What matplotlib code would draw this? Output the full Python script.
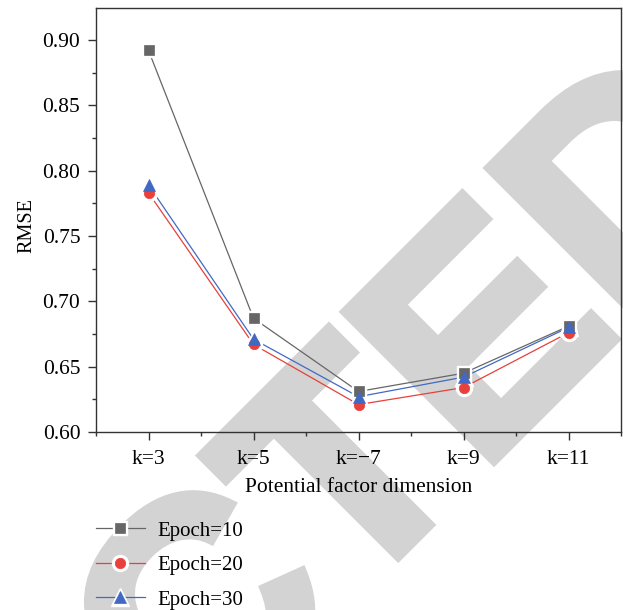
import numpy as np
import matplotlib
matplotlib.use('Agg')
from matplotlib import pyplot as plt
from matplotlib import patheffects
from matplotlib.ticker import MultipleLocator
from matplotlib.legend_handler import HandlerTuple

# data
k_labels = ['k=3', 'k=5', 'k=\u22127', 'k=9', 'k=11']
epoch10 = [0.892, 0.687, 0.631, 0.645, 0.681]
epoch20 = [0.783, 0.667, 0.621, 0.634, 0.676]
epoch30 = [0.789, 0.671, 0.627, 0.642, 0.680]
series_names = ['Epoch=10', 'Epoch=20', 'Epoch=30']

plt.rcParams['font.family'] = ['Liberation Serif', 'DejaVu Serif']

fig = plt.figure(figsize=(6.23, 6.10), dpi=100)
ax = fig.add_axes([0.1541, 0.2918, 0.8427, 0.6951])
ax.patch.set_visible(False)

# "RETRACTED" watermark behind the plot
wm_color = '#d3d3d3'
wm = dict(fontsize=219.6, fontweight='bold', family=['Liberation Sans', 'DejaVu Sans'],
          color=wm_color, rotation=45, rotation_mode='anchor', va='baseline', zorder=-1,
          path_effects=[patheffects.withStroke(linewidth=7.2, foreground=wm_color,
                                               joinstyle='miter')])
fig.text(0.5584, 0.006, 'RETRAC', ha='right', **wm)
fig.text(0.5584, 0.006, 'TED', ha='left', **wm)

x = np.arange(1, len(k_labels) + 1)
styles = [('#666666', 's', 6.5), ('#e8403a', 'o', 7.5), ('#4169c4', '^', 8.5)]
handles = []
for vals, (c, m, ms) in zip([epoch10, epoch20, epoch30], styles):
    ln, = ax.plot(x, vals, color=c, lw=0.9, zorder=2)
    halo, = ax.plot(x, vals, ls='none', marker=m, ms=ms + 4, mfc='white', mec='white', zorder=3)
    mk, = ax.plot(x, vals, ls='none', marker=m, ms=ms, mfc=c, mec=c, mew=0.5, zorder=4)
    handles.append((ln, halo, mk))

ax.set_xlim(0.5, 5.5)
ax.set_ylim(0.6, 0.9245)
ax.set_xticks(x)
ax.set_xticklabels(k_labels)
ax.xaxis.set_minor_locator(MultipleLocator(0.5))
ax.yaxis.set_major_locator(MultipleLocator(0.05))
ax.yaxis.set_minor_locator(MultipleLocator(0.025))
ax.yaxis.set_major_formatter(matplotlib.ticker.FormatStrFormatter('%.2f'))

ax.tick_params(axis='both', which='major', direction='out', length=5.8, width=1,
               labelsize=15.5, color='#333333')
ax.tick_params(axis='both', which='minor', direction='out', length=2.9, width=1, color='#333333')
ax.tick_params(axis='x', pad=7)
ax.tick_params(axis='y', pad=5.5)
for s in ax.spines.values():
    s.set_linewidth(1.0)
    s.set_color('#333333')

ax.set_xlabel('Potential factor dimension', fontsize=15.5, va='top')
ax.xaxis.set_label_coords(0.5, -0.108)
ax.set_ylabel('RMSE', fontsize=14.5)
ax.yaxis.set_label_coords(-0.114, 0.488)

fig.legend(handles, series_names, handler_map={tuple: HandlerTuple(ndivide=1, pad=0)},
           loc='upper left', bbox_to_anchor=(0.154, 0.146), frameon=False,
           borderpad=0, borderaxespad=0, handlelength=2.35, handletextpad=0.62,
           labelspacing=0.72, fontsize=15)

plt.savefig('out.png', dpi=100)
